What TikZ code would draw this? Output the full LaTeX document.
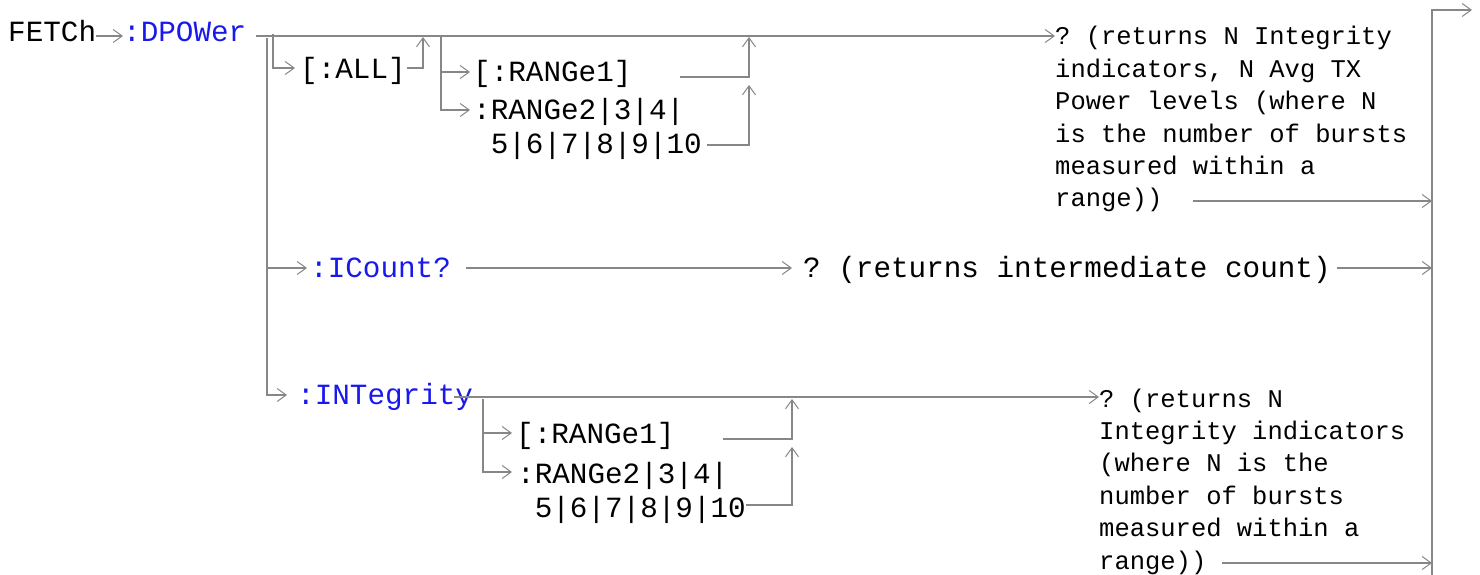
\documentclass[tikz,border=0pt]{standalone}
\usepackage{fontspec}
\setmonofont{Liberation Mono}
\usetikzlibrary{arrows.meta}
\definecolor{railgray}{RGB}{135,135,135}
\definecolor{cmdblue}{RGB}{25,25,235}
\newcommand{\kwfont}{\ttfamily\frenchspacing\fontsize{29.3}{34}\selectfont}
\newcommand{\notefont}{\ttfamily\frenchspacing\fontsize{25.5}{32.4}\selectfont}
\tikzset{
  kw/.style={anchor=base west,inner sep=0pt,font=\kwfont},
  cmd/.style={kw,text=cmdblue},
  twoline/.style={kw,text width=240pt,align=flush left},
  note/.style={anchor=base west,inner sep=0pt,font=\notefont,text width=#1,align=flush left},
  rail/.style={draw=railgray,line width=1.7pt},
}
\begin{document}
\begin{tikzpicture}[x=1pt,y=-1pt,line join=miter,>={Straight Barb[length=9pt,width=13pt,line width=1pt]}]
	\useasboundingbox (0,0) rectangle (1480,575);
	% words of the command
	\node[kw] (fetch) at (8,42) {FETCh};
	\node[cmd] (dpow) at (123,42) {:DPOWer};
	\node[kw] (all) at (300,79) {[:ALL]};
	\node[kw] (rngA) at (473,82) {[:RANGe1]};
	\node[twoline] (rngB) at (473,120) {:RANGe2|3|4|\\\phantom{0}5|6|7|8|9|10};
	\node[note=370pt] (resA) at (1055,45) {? (returns N Integrity\\indicators, N Avg TX\\Power levels (where N\\is the number of bursts\\measured within a\\range))};
	\node[cmd] (icnt) at (310,277) {:ICount?};
	\node[kw] (resB) at (803,277) {? (returns intermediate count)};
	\node[cmd] (integ) at (297,404) {:INTegrity};
	\node[kw] (rngC) at (516,443) {[:RANGe1]};
	\node[twoline] (rngD) at (517,483) {:RANGe2|3|4|\\\phantom{0}5|6|7|8|9|10};
	\node[note=330pt] (resC) at (1099,407) {? (returns N\\Integrity indicators\\(where N is the\\number of bursts\\measured within a\\range))};
	% junctions
	\coordinate (top) at (256,36);
	\coordinate (down) at (267,38);
	\coordinate (alltap) at (273,34);
	\coordinate (allup) at (423,37);
	\coordinate (rtap) at (441,36);
	\coordinate (rup) at (749,37);
	\coordinate (rupB) at (749,85);
	\coordinate (ibus) at (454,397);
	\coordinate (itap) at (483,399);
	\coordinate (iup) at (792,399);
	\coordinate (iupB) at (792,447);
	\coordinate (outA) at (1193,201);
	\coordinate (outB) at (1337,268);
	\coordinate (outC) at (1222,563);
	\coordinate (endrail) at (1432,10);
	\coordinate (endfoot) at (1432,575);
	\coordinate (exit) at (1472,10);
	% :DPOWer? and its optional parts
	\draw[rail,->] (fetch.east |- top) -- (dpow.west |- top);
	\draw[rail,->] (top) -- (top -| resA.west);
	\draw[rail,->] (alltap) |- ([shift={(-5,-11)}]all.base west);
	\draw[rail,->] ([shift={(1,-11)}]all.base east) -| (allup);
	\draw[rail,->] (rtap) |- ([shift={(-3,-10)}]rngA.base west);
	\draw[rail,->] (rtap) |- ([shift={(-3,-10)}]rngB.base west);
	\draw[rail,->] ([shift={(48,-5)}]rngA.base east) -| (rup);
	\draw[rail,->] ([shift={(234,25)}]rngB.base west) -| (rupB);
	\draw[rail,->] (outA) -- (outA -| endrail);
	% :ICount?
	\draw[rail,->] (down) |- ([shift={(-10,-9)}]integ.base west);
	\draw[rail,->] ([shift={(-43,-9)}]icnt.base west) -- ([shift={(-3,-9)}]icnt.base west);
	\draw[rail,->] ([shift={(15,-9)}]icnt.base east) -- ([shift={(-11,-9)}]resB.base west);
	\draw[rail,->] (outB) -- (outB -| endrail);
	% :INTegrity?
	\draw[rail,->] (ibus) -- (ibus -| resC.west);
	\draw[rail,->] (itap) |- ([shift={(-4,-10)}]rngC.base west);
	\draw[rail,->] (itap) |- ([shift={(-5,-11)}]rngD.base west);
	\draw[rail,->] ([shift={(48,-4)}]rngC.base east) -| (iup);
	\draw[rail,->] ([shift={(229,22)}]rngD.base west) -| (iupB);
	\draw[rail,->] (outC) -- (outC -| endrail);
	% end of the command
	\draw[rail,->] (endfoot) -- (endrail) -- (exit);
\end{tikzpicture}
\end{document}
